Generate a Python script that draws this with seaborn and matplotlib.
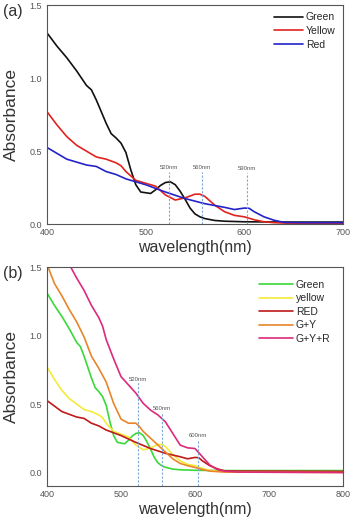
import numpy as np
import pandas as pd
import matplotlib
matplotlib.use("Agg")
import matplotlib.pyplot as plt
import seaborn as sns
from matplotlib.ticker import MultipleLocator

# Green sample
wl_green = [400, 410, 420, 430, 435, 440, 445, 450, 455, 460, 465, 470, 475, 480, 485,
            490, 495, 500, 505, 510, 515, 520, 525, 530, 535, 540, 545, 550, 555,
            560, 570, 580, 600, 650, 700, 800]
abs_green = [1.31, 1.22, 1.14, 1.05, 1.00, 0.95, 0.92, 0.85, 0.77, 0.69, 0.62, 0.59, 0.555, 0.49, 0.37,
             0.27, 0.22, 0.215, 0.21, 0.235, 0.265, 0.285, 0.29, 0.27, 0.225, 0.17, 0.11, 0.07, 0.05,
             0.038, 0.025, 0.02, 0.016, 0.014, 0.014, 0.014]

# Yellow sample
wl_yellow = [400, 410, 420, 430, 440, 450, 460, 470, 475, 480, 490, 500, 510, 520, 530, 540,
             550, 555, 560, 570, 580, 590, 600, 610, 620, 630, 650, 700, 800]
abs_yellow = [0.77, 0.68, 0.60, 0.54, 0.50, 0.46, 0.445, 0.42, 0.40, 0.36, 0.30, 0.28, 0.26, 0.20, 0.165, 0.18,
              0.205, 0.205, 0.19, 0.13, 0.085, 0.06, 0.05, 0.03, 0.016, 0.01, 0.005, 0.006, 0.005]

# Red sample
wl_red = [400, 420, 440, 450, 460, 470, 480, 490, 500, 520, 540, 560, 580, 590, 600, 605,
          610, 620, 630, 640, 660, 700, 800]
abs_red = [0.525, 0.445, 0.405, 0.395, 0.36, 0.34, 0.31, 0.29, 0.27, 0.22, 0.175, 0.14, 0.115, 0.10, 0.11, 0.108,
           0.085, 0.05, 0.027, 0.012, 0.01, 0.01, 0.008]

# G+Y mix
wl_gy = [400, 410, 420, 430, 440, 450, 460, 470, 480, 490, 500, 510, 520, 525, 530, 540,
         550, 560, 570, 580, 590, 600, 610, 620, 640, 800]
abs_gy = [1.52, 1.38, 1.29, 1.19, 1.10, 0.99, 0.85, 0.76, 0.66, 0.505, 0.39, 0.36, 0.36, 0.335, 0.30, 0.25,
          0.20, 0.15, 0.10, 0.066, 0.05, 0.037, 0.022, 0.01, 0.003, 0.0]

# G+Y+R mix
wl_gyr = [400, 410, 420, 430, 440, 450, 460, 470, 475, 480, 490, 500, 510, 520, 530, 540,
          550, 560, 570, 580, 590, 600, 610, 620, 630, 640, 660, 800]
abs_gyr = [2.0, 1.85, 1.7, 1.52, 1.42, 1.33, 1.22, 1.13, 1.07, 0.97, 0.83, 0.70, 0.64, 0.58, 0.505, 0.455,
           0.42, 0.37, 0.285, 0.20, 0.18, 0.175, 0.115, 0.055, 0.022, 0.01, 0.003, 0.0]

# peak markers: (position, label, line top, label y)
peaks_a = [(524, "520nm", 0.36, 0.385), (557, "560nm", 0.36, 0.39), (603, "590nm", 0.35, 0.38)]
peaks_b = [(523, "520nm", 0.66, 0.68), (556, "560nm", 0.44, 0.47), (604, "600nm", 0.24, 0.27)]

sns.set_style("white")
plt.rcParams['font.family'] = ['Liberation Sans', 'DejaVu Sans']

fig = plt.figure(figsize=(3.51, 5.2), dpi=100)
ax_a = fig.add_axes([0.134, 0.569, 0.843, 0.421])
ax_b = fig.add_axes([0.134, 0.065, 0.843, 0.4215])


def style_axes(ax, xlim, ylim, label):
    ax.set_xlim(*xlim)
    ax.set_ylim(*ylim)
    ax.xaxis.set_major_locator(MultipleLocator(100))
    ax.xaxis.set_minor_locator(MultipleLocator(50))
    ax.yaxis.set_major_locator(MultipleLocator(0.5))
    ax.yaxis.set_minor_locator(MultipleLocator(0.25))
    ax.tick_params(which="both", direction="in", colors="#444444", labelcolor="#555555",
                   labelsize=6.5, length=3, width=0.7, top=False, right=False)
    ax.tick_params(which="minor", length=2)
    ax.tick_params(axis="x", pad=3)
    for sp in ax.spines.values():
        sp.set_color("#555555")
        sp.set_linewidth(0.8)
    ax.set_xlabel("wavelength(nm)", fontsize=11.5, color="#333333", labelpad=2)
    ax.set_ylabel("Absorbance", fontsize=12.5, color="#333333", labelpad=8)
    ax.text(-0.15, 0.97, label, transform=ax.transAxes, fontsize=11.5, color="#333333",
            ha="left", va="center")


def peak_lines(ax, peaks):
    for x, txt, top, ty in peaks:
        ax.plot([x, x], [ax.get_ylim()[0], top], color="#7aa6d6", lw=0.8, ls=(0, (2, 1.5)))
        ax.text(x, ty, txt, fontsize=4.3, color="#555555", ha="center", va="center")


# panel (a)
sns.lineplot(x=wl_green, y=abs_green, ax=ax_a, color="#111111", lw=1.2, label="Green")
sns.lineplot(x=wl_yellow, y=abs_yellow, ax=ax_a, color="#e0231d", lw=1.2, label="Yellow")
sns.lineplot(x=wl_red, y=abs_red, ax=ax_a, color="#2323c8", lw=1.2, label="Red")
style_axes(ax_a, (400, 700), (0, 1.5), "(a)")
peak_lines(ax_a, peaks_a)
ax_a.legend(loc="upper right", frameon=False, fontsize=7.5, handlelength=2.8,
            handletextpad=0.3, labelspacing=0.35, borderaxespad=0.3)

# panel (b)
sns.lineplot(x=wl_green, y=abs_green, ax=ax_b, color="#3ad83a", lw=1.2, label="Green")
sns.lineplot(x=wl_yellow, y=abs_yellow, ax=ax_b, color="#f5ea3a", lw=1.2, label="yellow")
sns.lineplot(x=wl_red, y=abs_red, ax=ax_b, color="#c01a1a", lw=1.2, label="RED")
sns.lineplot(x=wl_gy, y=abs_gy, ax=ax_b, color="#e8852b", lw=1.2, label="G+Y")
sns.lineplot(x=wl_gyr, y=abs_gyr, ax=ax_b, color="#dc2a7c", lw=1.2, label="G+Y+R")
style_axes(ax_b, (400, 800), (-0.1, 1.5), "(b)")
peak_lines(ax_b, peaks_b)
ax_b.legend(loc="upper right", frameon=False, fontsize=7.5, handlelength=3.2,
            handletextpad=0.3, labelspacing=0.35, borderaxespad=0.8)

fig.savefig("out.png", dpi=100)
